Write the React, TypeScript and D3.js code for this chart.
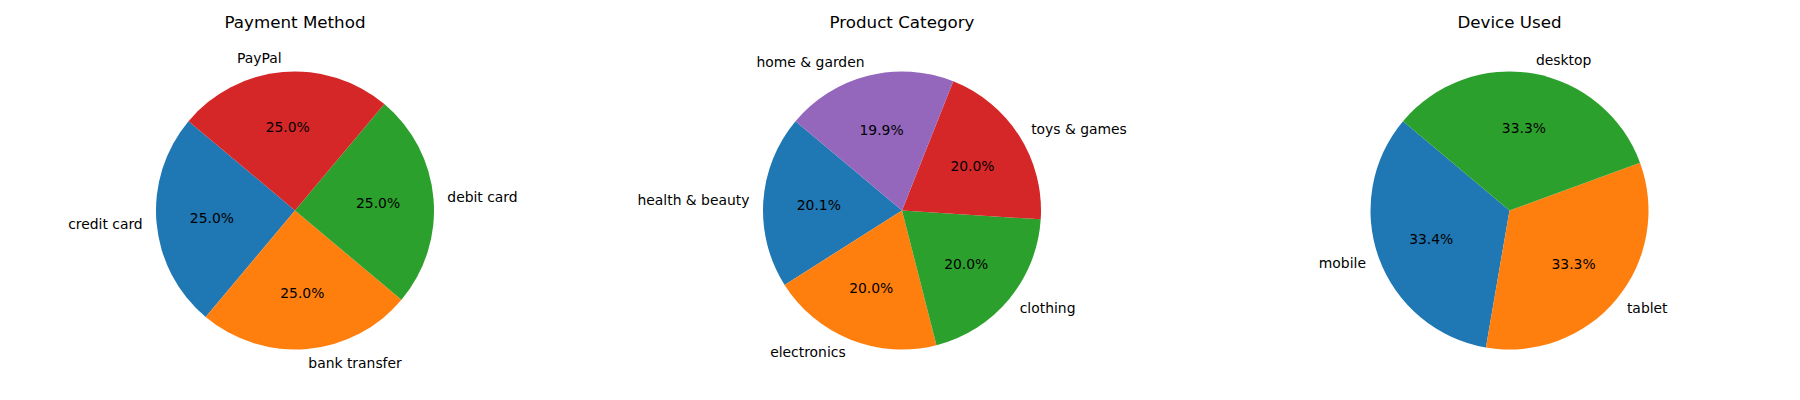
import React from "react";
import * as d3 from "d3";

const paymentLabels = ["credit card", "bank transfer", "debit card", "PayPal"];
const paymentValues = [25.0, 25.0, 25.0, 25.0];

const categoryLabels = ["health & beauty", "electronics", "clothing", "toys & games", "home & garden"];
const categoryValues = [20.1, 20.0, 20.0, 20.0, 19.9];

const deviceLabels = ["mobile", "tablet", "desktop"];
const deviceValues = [33.4, 33.3, 33.3];

const titles = ["Payment Method", "Product Category", "Device Used"];
const colors = ["#1f77b4", "#ff7f0e", "#2ca02c", "#d62728", "#9467bd"];

const W = 1800;
const H = 400;
const R = 139;
const CY = 210.5;
const centers = [295, 902, 1509.5];
// matplotlib startangle (degrees, counterclockwise from 3 o'clock)
const START = 140;

const font = "DejaVu Sans, sans-serif";

type PieProps = { cx: number; title: string; labels: string[]; values: number[] };

const Pie = ({ cx, title, labels, values }: PieProps) => {
  const a0 = ((90 - START) * Math.PI) / 180;
  const pie = d3
    .pie<number>()
    .sort(null)
    .startAngle(a0)
    .endAngle(a0 - 2 * Math.PI);
  const arcs = pie(values);
  const arc = d3.arc<d3.PieArcDatum<number>>().innerRadius(0).outerRadius(R);
  const total = d3.sum(values);

  return (
    <g transform={`translate(${cx},${CY})`}>
      <text
        x={0}
        y={28 - CY}
        textAnchor="middle"
        fontFamily={font}
        fontSize={16.7}
        fill="#000"
      >
        {title}
      </text>
      {arcs.map((d, i) => (
        <path key={"w" + i} d={arc(d) || ""} fill={colors[i]} />
      ))}
      {arcs.map((d, i) => {
        const mid = (d.startAngle + d.endAngle) / 2;
        const lx = Math.sin(mid) * R * 1.1;
        const ly = -Math.cos(mid) * R * 1.1;
        const px = Math.sin(mid) * R * 0.6;
        const py = -Math.cos(mid) * R * 0.6;
        return (
          <g key={"t" + i} fontFamily={font} fontSize={13.9} fill="#000">
            <text x={lx} y={ly} dy="0.35em" textAnchor={lx > 0 ? "start" : "end"}>
              {labels[i]}
            </text>
            <text x={px} y={py} dy="0.35em" textAnchor="middle">
              {((values[i] / total) * 100).toFixed(1) + "%"}
            </text>
          </g>
        );
      })}
    </g>
  );
};

export default function App() {
  const sets = [
    { labels: paymentLabels, values: paymentValues },
    { labels: categoryLabels, values: categoryValues },
    { labels: deviceLabels, values: deviceValues },
  ];
  return (
    <svg
      width={W}
      height={H}
      style={{ position: "absolute", left: 0, top: 0, background: "#fff" }}
    >
      <rect width={W} height={H} fill="#fff" />
      {sets.map((s, i) => (
        <Pie key={i} cx={centers[i]} title={titles[i]} labels={s.labels} values={s.values} />
      ))}
    </svg>
  );
}
